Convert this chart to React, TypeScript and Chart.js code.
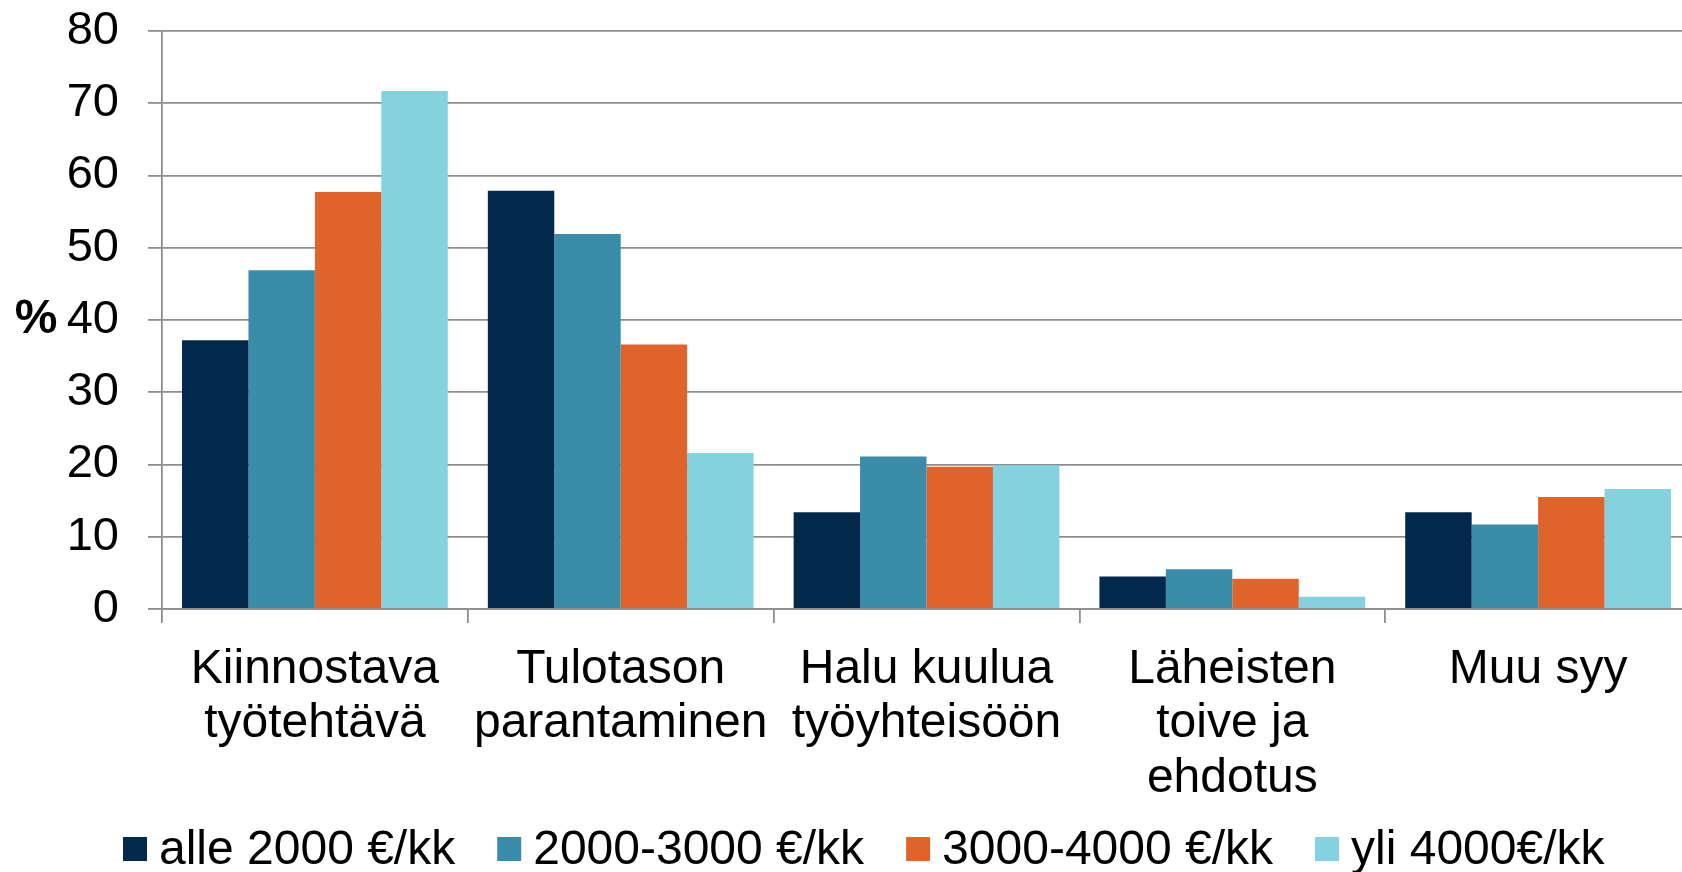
import React, { useEffect, useRef } from "react";
import { Chart, registerables } from "chart.js";

Chart.register(...registerables);

const categories: string[][] = [
  ["Kiinnostava", "työtehtävä"],
  ["Tulotason", "parantaminen"],
  ["Halu kuulua", "työyhteisöön"],
  ["Läheisten", "toive ja", "ehdotus"],
  ["Muu syy"],
];

const seriesNames = ["alle 2000 €/kk", "2000-3000 €/kk", "3000-4000 €/kk", "yli 4000€/kk"];
const seriesColors = ["#02284C", "#3A8CA9", "#DE642B", "#84D2DF"];

const alle2000 = [37.2, 57.9, 13.4, 4.5, 13.4];
const v2000_3000 = [46.9, 51.9, 21.1, 5.5, 11.7];
const v3000_4000 = [57.7, 36.6, 19.7, 4.2, 15.5];
const yli4000 = [71.7, 21.6, 19.9, 1.7, 16.6];

const seriesValues = [alle2000, v2000_3000, v3000_4000, yli4000];

const yTicks = { min: 0, max: 80, step: 10 };
const yAxisTitle = "%";

const FONT = "'Liberation Sans', Arial, sans-serif";
const GRID = "#8e8e8e";

const extrasPlugin = {
  id: "extras",
  afterDraw(chart: any) {
    const ctx = chart.ctx;
    const area = chart.chartArea;
    ctx.save();
    // y-axis title (unrotated)
    ctx.fillStyle = "#000";
    ctx.font = `bold 48px ${FONT}`;
    ctx.textAlign = "center";
    ctx.textBaseline = "middle";
    ctx.fillText(yAxisTitle, 36, (area.top + area.bottom) / 2);

    // legend
    ctx.font = `48px ${FONT}`;
    ctx.textAlign = "left";
    const cy = 849;
    const box = 24;
    let x = 123;
    chart.data.datasets.forEach((ds: any) => {
      ctx.fillStyle = ds.backgroundColor;
      ctx.fillRect(x, cy - box / 2, box, box);
      x += box + 12;
      ctx.fillStyle = "#000";
      ctx.fillText(ds.label, x, cy + 2);
      x += ctx.measureText(ds.label).width + 42;
    });
    ctx.restore();
  },
};

export default function App() {
  const ref = useRef<HTMLCanvasElement>(null);
  useEffect(() => {
    if (!ref.current) return;
    const chart = new Chart(ref.current, {
      type: "bar",
      data: {
        labels: categories,
        datasets: seriesNames.map((name, i) => ({
          label: name,
          data: seriesValues[i],
          backgroundColor: seriesColors[i],
          borderWidth: 0,
          categoryPercentage: 0.869,
          barPercentage: 1,
        })),
      },
      options: {
        animation: false,
        responsive: false,
        devicePixelRatio: 1,
        layout: { padding: { top: 31, left: 0, right: 0, bottom: 0 } },
        plugins: {
          legend: { display: false },
          tooltip: { enabled: false },
          title: { display: false },
        },
        scales: {
          x: {
            grid: {
              display: true,
              drawOnChartArea: false,
              drawTicks: true,
              tickLength: 14,
              color: GRID,
              lineWidth: 1.8,
              offset: true,
            },
            border: { display: true, color: GRID, width: 1.8 },
            ticks: {
              autoSkip: false,
              maxRotation: 0,
              minRotation: 0,
              padding: 19,
              color: "#000",
              font: { family: FONT, size: 48, lineHeight: 1.14 },
            },
            afterFit: (s: any) => {
              s.height = 872 - 609;
              s.paddingLeft = 0;
              s.paddingRight = 0;
            },
          },
          y: {
            min: yTicks.min,
            max: yTicks.max,
            ticks: {
              stepSize: yTicks.step,
              padding: 29,
              color: "#000",
              font: { family: FONT, size: 47, lineHeight: 1.14 },
            },
            grid: {
              color: GRID,
              lineWidth: 1.8,
              tickLength: 14,
            },
            border: { display: true, color: GRID, width: 1.8 },
            afterFit: (s: any) => {
              s.width = 162;
              s.paddingTop = 0;
              s.paddingBottom = 0;
            },
          },
        },
      },
      plugins: [extrasPlugin],
    });
    return () => chart.destroy();
  }, []);

  return (
    <div
      style={{
        position: "fixed",
        left: 0,
        top: 0,
        width: 1682,
        height: 872,
        overflow: "hidden",
        background: "#fff",
      }}
    >
      <canvas ref={ref} width={1691} height={872} style={{ width: 1691, height: 872, display: "block" }} />
    </div>
  );
}
